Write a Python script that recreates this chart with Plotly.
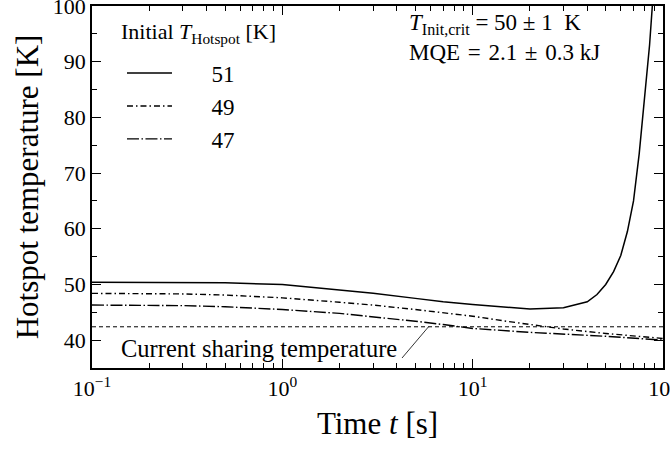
import plotly.graph_objects as go

# ---- data ----
t_51 = [0.1, 0.2, 0.5, 1, 2, 3, 5, 7, 10, 15, 20, 30, 40, 45, 50, 55, 60, 65, 70, 75, 80, 85, 90]
T_51 = [50.4, 50.4, 50.3, 50.0, 49.0, 48.4, 47.5, 46.9, 46.4, 45.9, 45.6, 45.8, 46.9, 48.2, 50.0, 52.3, 55.2, 59.5, 65.0, 73.5, 84.0, 93.0, 105.0]

t_49 = [0.1, 0.3, 0.5, 1, 2, 3, 5, 10, 15, 20, 30, 50, 70, 100]
T_49 = [48.4, 48.3, 48.1, 47.6, 46.8, 46.3, 45.5, 44.3, 43.4, 42.8, 42.0, 41.2, 40.7, 40.3]

t_47 = [0.1, 0.3, 0.5, 1, 2, 3, 5, 7, 10, 20, 50, 100]
T_47 = [46.3, 46.2, 46.0, 45.5, 44.8, 44.2, 43.4, 42.8, 42.1, 41.4, 40.7, 40.0]

t_cs = [0.1, 100]
T_cs = [42.4, 42.4]

x_tickvals = [0.1, 1, 10, 100]
x_ticktext = ["10<sup>\u22121</sup>", "10<sup>0</sup>", "10<sup>1</sup>", "10<sup>2</sup>"]
y_tickvals = [40, 50, 60, 70, 80, 90, 100]

FONT = "Liberation Serif"
SP = "\u00a0"
GAP = "\u00a0\u200a"

fig = go.Figure()
fig.add_trace(go.Scatter(x=t_cs, y=T_cs, mode="lines", showlegend=False,
                         line=dict(color="black", width=1, dash="4px,3px")))
fig.add_trace(go.Scatter(x=t_51, y=T_51, mode="lines", name=SP * 6 + "51",
                         line=dict(color="black", width=1.5)))
fig.add_trace(go.Scatter(x=t_49, y=T_49, mode="lines", name=SP * 6 + "49",
                         line=dict(color="black", width=1.4, dash="6px,3px,1.5px,3px")))
fig.add_trace(go.Scatter(x=t_47, y=T_47, mode="lines", name=SP * 6 + "47",
                         line=dict(color="black", width=1.4, dash="12px,2.5px,1.5px,2.5px")))

minor_x = [m * 10 ** e for e in (-1, 0, 1) for m in range(2, 10)]

fig.update_xaxes(type="log", range=[-1, 2], tickmode="array", tickvals=x_tickvals,
                 ticktext=x_ticktext, ticks="inside", ticklen=9, tickwidth=1.2,
                 tickcolor="black", showline=True, linecolor="black", linewidth=1.8,
                 mirror="allticks", showgrid=False, zeroline=False, automargin=False,
                 ticklabeloverflow="allow",
                 tickfont=dict(family=FONT, size=22, color="black"),
                 minor=dict(tickmode="array", tickvals=minor_x, ticks="inside",
                            ticklen=5, tickwidth=1, tickcolor="black", showgrid=False),
                 title=dict(text="Time <i>t</i> [s]", font=dict(family=FONT, size=31, color="black"),
                            standoff=12))
fig.update_yaxes(range=[35, 100], tickmode="array", tickvals=y_tickvals,
                 ticks="inside", ticklen=9, tickwidth=1.2, tickcolor="black",
                 showline=True, linecolor="black", linewidth=1.8, mirror="allticks",
                 showgrid=False, zeroline=False, automargin=False,
                 ticklabeloverflow="allow",
                 tickfont=dict(family=FONT, size=22, color="black"),
                 minor=dict(dtick=5, ticks="inside", ticklen=5, tickwidth=1,
                            tickcolor="black", showgrid=False),
                 title=dict(text="Hotspot temperature [K]", font=dict(family=FONT, size=31, color="black"),
                            standoff=5))

# legend title
fig.add_annotation(xref="paper", yref="paper", x=0.047, y=0.925, xanchor="left", yanchor="middle",
                   showarrow=False, text="Initial <i>T</i><sub>Hotspot</sub> [K]",
                   font=dict(family=FONT, size=22, color="black"))
# critical values
fig.add_annotation(xref="x", yref="paper", x=0.6526, y=0.995, xanchor="left", yanchor="top",
                   showarrow=False, align="left",
                   text=("<i>T</i><sub>Init,crit</sub>" + SP + "=" + SP + "50" + SP + "\u00b1" + SP + "1" + SP * 2 + "K"
                         "<br>MQE" + GAP + "=" + GAP + "2.1" + GAP + "\u00b1" + GAP + "0.3" + SP + "kJ"),
                   font=dict(family=FONT, size=23, color="black"))
# current sharing label
fig.add_annotation(xref="x", yref="y", x=0.6105, y=38.55, xanchor="right", yanchor="middle",
                   showarrow=False, text="Current sharing temperature",
                   font=dict(family=FONT, size=24.5, color="black"))
fig.add_annotation(xref="x", yref="y", x=0.768, y=42.4, text=" ", showarrow=True,
                   arrowhead=0, arrowwidth=0.8, arrowcolor="black", ax=-28, ay=33,
                   font=dict(size=1))

fig.update_layout(width=670, height=449, margin=dict(l=92, r=7, t=6, b=81),
                  plot_bgcolor="white", paper_bgcolor="white",
                  font=dict(family=FONT, color="black"),
                  legend=dict(x=0.0525, y=0.874, xanchor="left", yanchor="top",
                              bgcolor="rgba(0,0,0,0)", itemwidth=45,
                              font=dict(family=FONT, size=23, color="black")))

fig.write_html("out.html", config={"displayModeBar": False},
               post_script="document.body.style.margin='0';")
